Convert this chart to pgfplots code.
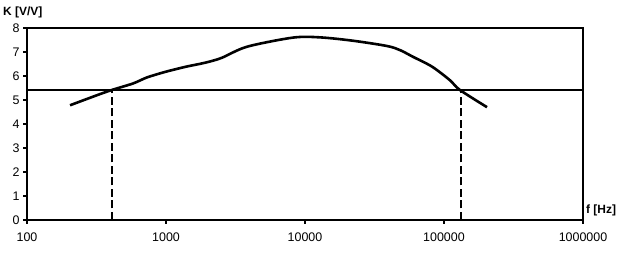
\documentclass[border=0pt]{standalone}
\usepackage{pgfplots}
\pgfplotsset{compat=1.18}
\usepackage{fontspec}
\setmainfont{Liberation Sans}
\begin{document}
\begin{tikzpicture}
\begin{axis}[
  scale only axis,
  width=556bp, height=192bp,
  xmode=log, log basis x=10,
  xmin=100, xmax=1000000, ymin=0, ymax=8,
  xtick={100,1000,10000,100000,1000000},
  xticklabels={100,1000,10000,100000,1000000},
  ytick={0,1,2,3,4,5,6,7,8},
  minor xtick={}, minor ytick={},
  tick align=outside, tick pos=left,
  major tick length=4bp,
  tick style={line width=1.5bp, black},
  axis line style={line width=1.6bp},
  ticklabel style={font=\fontsize{12.5}{14}\selectfont},
  /pgf/number format/assume math mode=true,
  xticklabel style={yshift=-5bp},
  yticklabel style={xshift=0bp},
  clip=false,
]
\addplot[black, line width=2.6bp, smooth, tension=0.5] coordinates {
 (204,4.78) (319,5.2) (409,5.42) (580,5.69) (730,5.94) (1000,6.18)
 (1400,6.39) (1900,6.55) (2500,6.75) (3830,7.22) (8200,7.60) (12800,7.61)
 (22100,7.47) (38900,7.25) (48200,7.08) (59800,6.8) (82000,6.39)
 (110000,5.83) (130000,5.42) (204000,4.7)
};
\addplot[black, line width=1.3bp] coordinates {(100,5.42) (1000000,5.42)};
\addplot[black, line width=2bp, dash pattern=on 8bp off 3.5bp] coordinates {(409,0) (409,5.42)};
\addplot[black, line width=2bp, dash pattern=on 8bp off 3.5bp] coordinates {(132000,0) (132000,5.42)};
\node[anchor=south west, font=\bfseries\fontsize{12}{14}\selectfont, inner sep=0pt] at ([xshift=-24bp,yshift=10bp]rel axis cs:0,1) {K [V/V]};
\node[anchor=south west, font=\bfseries\fontsize{12}{14}\selectfont, inner sep=0pt] at ([xshift=3bp,yshift=4bp]rel axis cs:1,0) {f [Hz]};
\end{axis}
\pgfresetboundingbox
\path ([xshift=-27bp,yshift=-36bp]current axis.south west) rectangle ([xshift=38bp,yshift=28bp]current axis.north east);
\end{tikzpicture}
\end{document}
